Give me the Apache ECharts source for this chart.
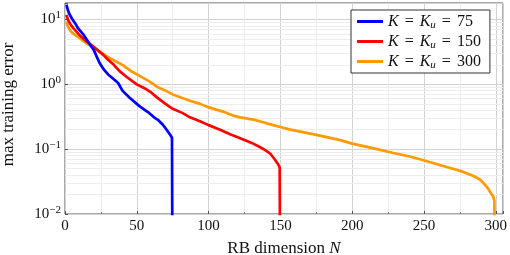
<!DOCTYPE html>
<html><head><meta charset="utf-8">
<script src="https://cdn.jsdelivr.net/npm/echarts@6/dist/echarts.min.js"></script>
<style>html,body{margin:0;padding:0;background:#fff}#c{width:510px;height:255px}</style>
</head><body><div id="c"></div>
<script>
var seriesNames = ['K = Ku = 75', 'K = Ku = 150', 'K = Ku = 300'];
var xTicks = [0, 50, 100, 150, 200, 250, 300];
var yTicks = [0.01, 0.1, 1, 10];
var blueData = [[1,17],[2,14],[3,12.2],[5,10.2],[7,8.8],[9,7.4],[13,5.8],[16,4.6],[20,3.4],[22,2.7],[24,2.15],[27,1.7],[30,1.42],[34,1.2],[37,1.05],[40,0.8],[45,0.62],[50,0.5],[53,0.44],[58,0.37],[62,0.31],[65,0.28],[68,0.24],[70,0.21],[73,0.17],[74.5,0.15],[75,0.0001]];
var redData = [[1,11.8],[2,10],[4,8.3],[6,7.3],[10,5.8],[15,4.6],[20,3.8],[27,2.8],[30,2.4],[34,2.0],[38,1.6],[43,1.3],[50,1.0],[55,0.88],[60,0.75],[64,0.63],[70,0.5],[75,0.42],[82,0.36],[87,0.31],[94,0.27],[100,0.235],[108,0.2],[115,0.17],[122,0.148],[130,0.125],[135,0.11],[140,0.095],[143,0.085],[146,0.07],[148.5,0.058],[149.5,0.052],[150,0.0001]];
var orangeData = [[1,9.3],[2,7.8],[4,6.6],[6,6.0],[10,5.2],[15,4.3],[22,3.4],[31,2.55],[40,2.0],[47,1.55],[52,1.35],[59,1.1],[64,0.92],[70,0.8],[75,0.7],[87,0.56],[94,0.5],[99,0.45],[110,0.38],[117,0.33],[122,0.31],[133,0.28],[145,0.235],[150,0.22],[157,0.2],[175,0.166],[191,0.139],[200,0.122],[215,0.103],[228,0.088],[240,0.077],[249,0.068],[261,0.057],[270,0.05],[277,0.045],[284,0.039],[289,0.034],[292,0.029],[294.5,0.025],[296.5,0.021],[298.2,0.0186],[299,0.016],[300,0.0001]];

var font = 'Liberation Serif';
var yMinor = [];
for (var e = -2; e <= 1; e++) for (var m = 2; m <= 9; m++) { var v = m * Math.pow(10, e); if (v < 18) yMinor.push({yAxis: v}); }
var chart = echarts.init(document.getElementById('c'), null, {renderer: 'canvas'});
chart.setOption({
  animation: false,
  backgroundColor: '#fff',
  grid: {left: 65, right: 7, top: 3, bottom: 41, show: true, borderColor: '#555', borderWidth: 1,
         containLabel: false, outerBoundsMode: 'none'},
  legend: {
    data: seriesNames, left: 351, top: 10, orient: 'vertical', z: 20,
    backgroundColor: '#fff', borderColor: '#333', borderWidth: 1, borderRadius: 0,
    padding: [2, 9, 2, 6], itemGap: 1, itemWidth: 26, itemHeight: 3, icon: 'rect',
    textStyle: {fontFamily: font, fontSize: 16, color: '#111',
      rich: {i: {fontFamily: font, fontStyle: 'italic', fontSize: 16, lineHeight: 18},
             e: {fontFamily: font, fontSize: 16, lineHeight: 18, padding: [0, 6, 0, 6]},
             n: {fontFamily: font, fontSize: 16, lineHeight: 18},
             s: {fontFamily: font, fontStyle: 'italic', fontSize: 11, lineHeight: 11, padding: [8, 0, 0, 0]}}},
    formatter: function (name) { var k = name.split('= ')[2]; return '{i|K}{e|=}{i|K}{s|u}{e|=}{n|' + k + '}'; }
  },
  xAxis: {
    type: 'value', min: 0, max: 305, interval: 50,
    name: 'RB dimension {i|N}', nameLocation: 'middle', nameGap: 26,
    nameTextStyle: {fontFamily: font, fontSize: 17, color: '#111', rich: {i: {fontFamily: font, fontStyle: 'italic', fontSize: 17}}},
    axisLine: {show: false},
    axisTick: {show: true, inside: true, length: 3, lineStyle: {color: '#555'}},
    minorTick: {show: true, splitNumber: 2, length: 2, lineStyle: {color: '#777'}},
    axisLabel: {fontFamily: font, fontSize: 15, color: '#111', margin: 5,
      formatter: function (v) { return xTicks.indexOf(v) >= 0 ? String(v) : ''; }},
    splitLine: {show: true, lineStyle: {color: '#d2d2d2', width: 1}},
    minorSplitLine: {show: true, lineStyle: {color: '#ececec', width: 1}}
  },
  yAxis: {
    type: 'log', logBase: 10, min: 0.01, max: 18, interval: 1,
    name: 'max training error', nameLocation: 'middle', nameGap: 48, nameRotate: 90,
    nameTextStyle: {fontFamily: font, fontSize: 17, color: '#111', padding: [0, 0, 0, 8]},
    axisLine: {show: false},
    axisTick: {show: true, inside: true, length: 3, lineStyle: {color: '#555'}},
    axisLabel: {fontFamily: font, fontSize: 15, color: '#111', margin: 4,
      formatter: function (v) {
        var l = Math.round(Math.log10(v));
        if (Math.abs(Math.log10(v) - l) > 1e-6) return '';
        var s = String(l).replace('-', '\u2212');
        return '{b|10}{p|' + s + '}';
      },
      rich: {b: {fontFamily: font, fontSize: 15, lineHeight: 18}, p: {fontFamily: font, fontSize: 11, lineHeight: 11, padding: [0, 0, 8, 0]}}},
    splitLine: {show: true, lineStyle: {color: '#d2d2d2', width: 1}}
  },
  series: [
    {name: '_minor', type: 'line', data: [], z: 1, silent: true,
     markLine: {silent: true, z: 1, symbol: 'none', label: {show: false}, animation: false,
       lineStyle: {color: '#ededed', type: 'solid', width: 1}, data: yMinor}},
    {name: seriesNames[0], type: 'line', data: blueData, showSymbol: false, symbol: 'none', z: 10,
     lineStyle: {color: '#0000ff', width: 2.7}, itemStyle: {color: '#0000ff'}},
    {name: seriesNames[1], type: 'line', data: redData, showSymbol: false, symbol: 'none', z: 9,
     lineStyle: {color: '#ff0000', width: 2.7}, itemStyle: {color: '#ff0000'}},
    {name: seriesNames[2], type: 'line', data: orangeData, showSymbol: false, symbol: 'none', z: 8,
     lineStyle: {color: '#ff9a00', width: 2.7}, itemStyle: {color: '#ff9a00'}}
  ]
});
</script></body></html>
